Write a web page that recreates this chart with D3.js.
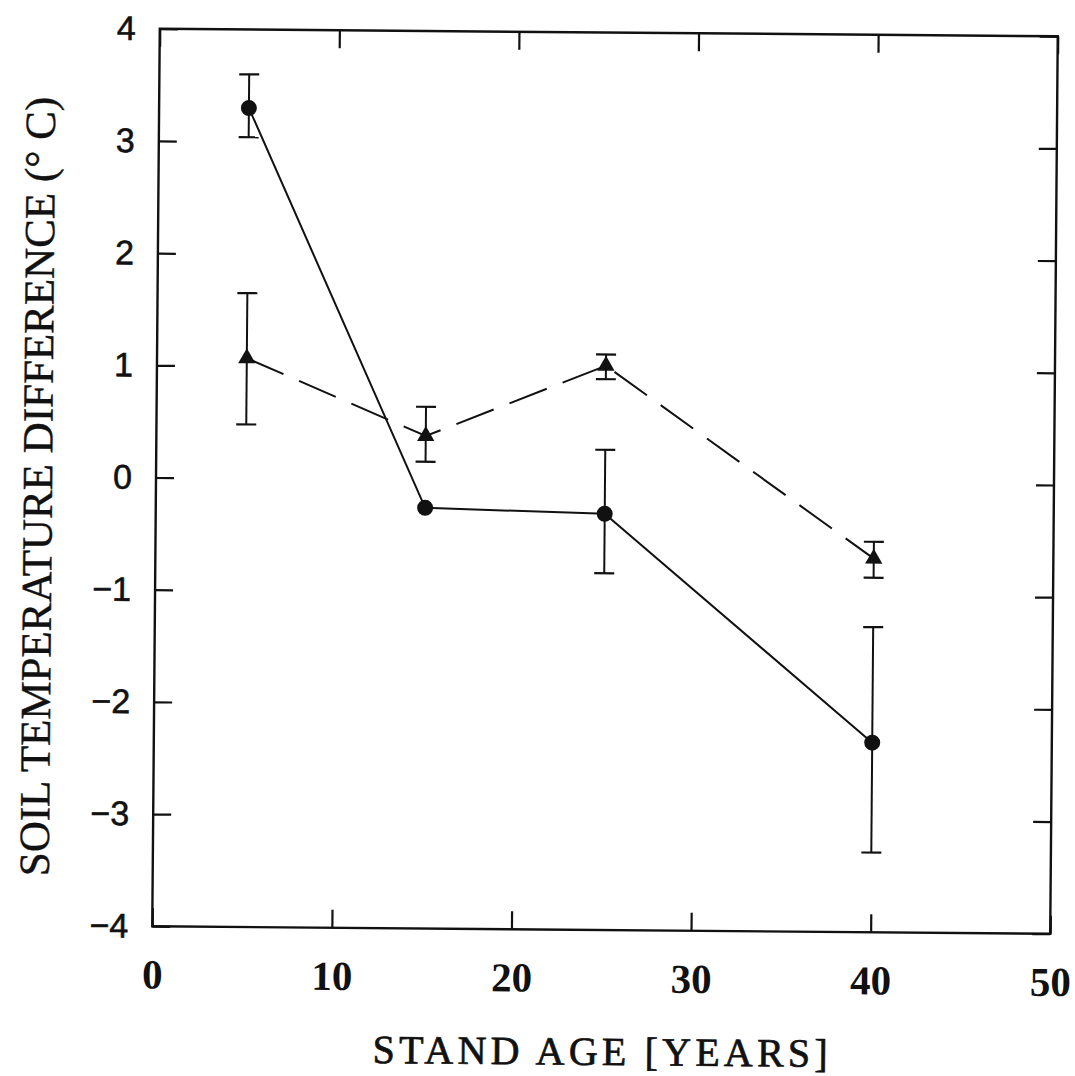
<!DOCTYPE html>
<html>
<head>
<meta charset="utf-8">
<script src="https://cdn.jsdelivr.net/npm/d3@7"></script>
<style>
  html, body { margin: 0; padding: 0; background: #fff; }
  svg { display: block; }
</style>
</head>
<body>
<svg id="chart" width="1075" height="1076"></svg>
<script>
// Stand ages (years) at which soil temperature differences were measured
const standAge = [5, 15, 25, 40];

// Series 1 (filled circles, solid line): mean difference and error bar limits
const circleMean = [3.30, -0.25, -0.29, -2.31];
const circleUpper = [3.60, -0.25, 0.28, -1.28];
const circleLower = [3.04, -0.25, -0.82, -3.29];

// Series 2 (filled triangles, dashed line)
const triMean = [1.07, 0.39, 1.03, -0.67];
const triUpper = [1.65, 0.65, 1.13, -0.52];
const triLower = [0.48, 0.16, 0.91, -0.84];

// Axis ticks
const xTicks = [0, 10, 20, 30, 40, 50];
const yTicks = [-4, -3, -2, -1, 0, 1, 2, 3, 4];

const svg = d3.select("#chart");
const W = 1075, H = 1076;
svg.append("rect").attr("width", W).attr("height", H).attr("fill", "#fff");

const margin = { left: 156, right: W - 1054, top: 32.5, bottom: H - 930 };
const x = d3.scaleLinear().domain([0, 50]).range([margin.left, W - margin.right]);
const y = d3.scaleLinear().domain([-4, 4]).range([H - margin.bottom, margin.top]);

// whole figure sits slightly tilted on the page
const g = svg.append("g").attr("transform", "rotate(0.48, 604, 481)");

const ink = "#111";
const tickLen = 18;

// Frame
g.append("rect")
  .attr("x", x(0)).attr("y", y(4))
  .attr("width", x(50) - x(0)).attr("height", y(-4) - y(4))
  .attr("fill", "none").attr("stroke", ink).attr("stroke-width", 2.4);

// Axes with inward ticks on all four sides
const axB = d3.axisBottom(x).tickValues(xTicks).tickSizeInner(-tickLen).tickSizeOuter(0).tickFormat(d3.format("d")).tickPadding(33);
const axT = d3.axisTop(x).tickValues(xTicks).tickSizeInner(-tickLen).tickSizeOuter(0).tickFormat("");
const axL = d3.axisLeft(y).tickValues(yTicks).tickSizeInner(-tickLen).tickSizeOuter(0)
  .tickFormat(d => d < 0 ? "\u2212" + Math.abs(d) : String(d)).tickPadding(24);
const axR = d3.axisRight(y).tickValues(yTicks).tickSizeInner(-tickLen).tickSizeOuter(0).tickFormat("");

function styleAxis(sel) {
  sel.select(".domain").remove();
  sel.selectAll(".tick line").attr("stroke", ink).attr("stroke-width", 2.2);
}

const gB = g.append("g").attr("transform", `translate(0,${y(-4)})`).call(axB).call(styleAxis);
gB.selectAll(".tick text")
  .attr("font-family", "'Liberation Serif', 'Times New Roman', serif")
  .attr("font-size", 41).attr("font-weight", "bold").attr("fill", ink);

g.append("g").attr("transform", `translate(0,${y(4)})`).call(axT).call(styleAxis);

const gL = g.append("g").attr("transform", `translate(${x(0)},0)`).call(axL).call(styleAxis);
gL.selectAll(".tick text")
  .attr("font-family", "'Liberation Sans', Arial, sans-serif")
  .attr("font-size", 34).attr("fill", ink)
  .attr("stroke", ink).attr("stroke-width", 0.6);

g.append("g").attr("transform", `translate(${x(50)},0)`).call(axR).call(styleAxis);

// Axis titles
g.append("text")
  .attr("x", (x(0) + x(50)) / 2 + 2).attr("y", 1065)
  .attr("text-anchor", "middle")
  .attr("font-family", "'Liberation Serif', 'Times New Roman', serif")
  .attr("font-size", 40).attr("letter-spacing", 4.2)
  .attr("fill", ink).attr("stroke", ink).attr("stroke-width", 0.7)
  .text("STAND AGE [YEARS]");

g.append("text")
  .attr("transform", `translate(52, ${(y(4) + y(-4)) / 2 + 10}) rotate(-90)`)
  .attr("text-anchor", "middle")
  .attr("font-family", "'Liberation Serif', 'Times New Roman', serif")
  .attr("font-size", 43)
  .attr("fill", ink).attr("stroke", ink).attr("stroke-width", 0.4)
  .text("SOIL TEMPERATURE DIFFERENCE (\u00B0 C)");

// Data tables
const circles = standAge.map((a, i) => ({ a, m: circleMean[i], hi: circleUpper[i], lo: circleLower[i] }));
const tris = standAge.map((a, i) => ({ a, m: triMean[i], hi: triUpper[i], lo: triLower[i] }));

const line = d3.line().x(d => x(d.a)).y(d => y(d.m));

// Connecting lines
g.append("path").datum(tris)
  .attr("d", line).attr("fill", "none")
  .attr("stroke", ink).attr("stroke-width", 2)
  .attr("stroke-dasharray", "40,17");

g.append("path").datum(circles)
  .attr("d", line).attr("fill", "none")
  .attr("stroke", ink).attr("stroke-width", 2);

// Error bars (skipped where the spread is smaller than the marker)
function errorBars(data) {
  const cap = 10;
  const eb = g.append("g").selectAll("g").data(data.filter(d => d.hi > d.lo)).join("g");
  eb.append("line")
    .attr("x1", d => x(d.a)).attr("x2", d => x(d.a))
    .attr("y1", d => y(d.hi)).attr("y2", d => y(d.lo))
    .attr("stroke", ink).attr("stroke-width", 2);
  eb.append("line")
    .attr("x1", d => x(d.a) - cap).attr("x2", d => x(d.a) + cap)
    .attr("y1", d => y(d.hi)).attr("y2", d => y(d.hi))
    .attr("stroke", ink).attr("stroke-width", 2.2);
  eb.append("line")
    .attr("x1", d => x(d.a) - cap).attr("x2", d => x(d.a) + cap)
    .attr("y1", d => y(d.lo)).attr("y2", d => y(d.lo))
    .attr("stroke", ink).attr("stroke-width", 2.2);
}
errorBars(tris);
errorBars(circles);

// Markers
g.append("g").selectAll("path").data(tris).join("path")
  .attr("transform", d => `translate(${x(d.a)},${y(d.m)})`)
  .attr("d", d3.symbol().type(d3.symbolTriangle).size(130))
  .attr("fill", ink);

g.append("g").selectAll("circle").data(circles).join("circle")
  .attr("cx", d => x(d.a)).attr("cy", d => y(d.m))
  .attr("r", 8).attr("fill", ink);
</script>
</body>
</html>
